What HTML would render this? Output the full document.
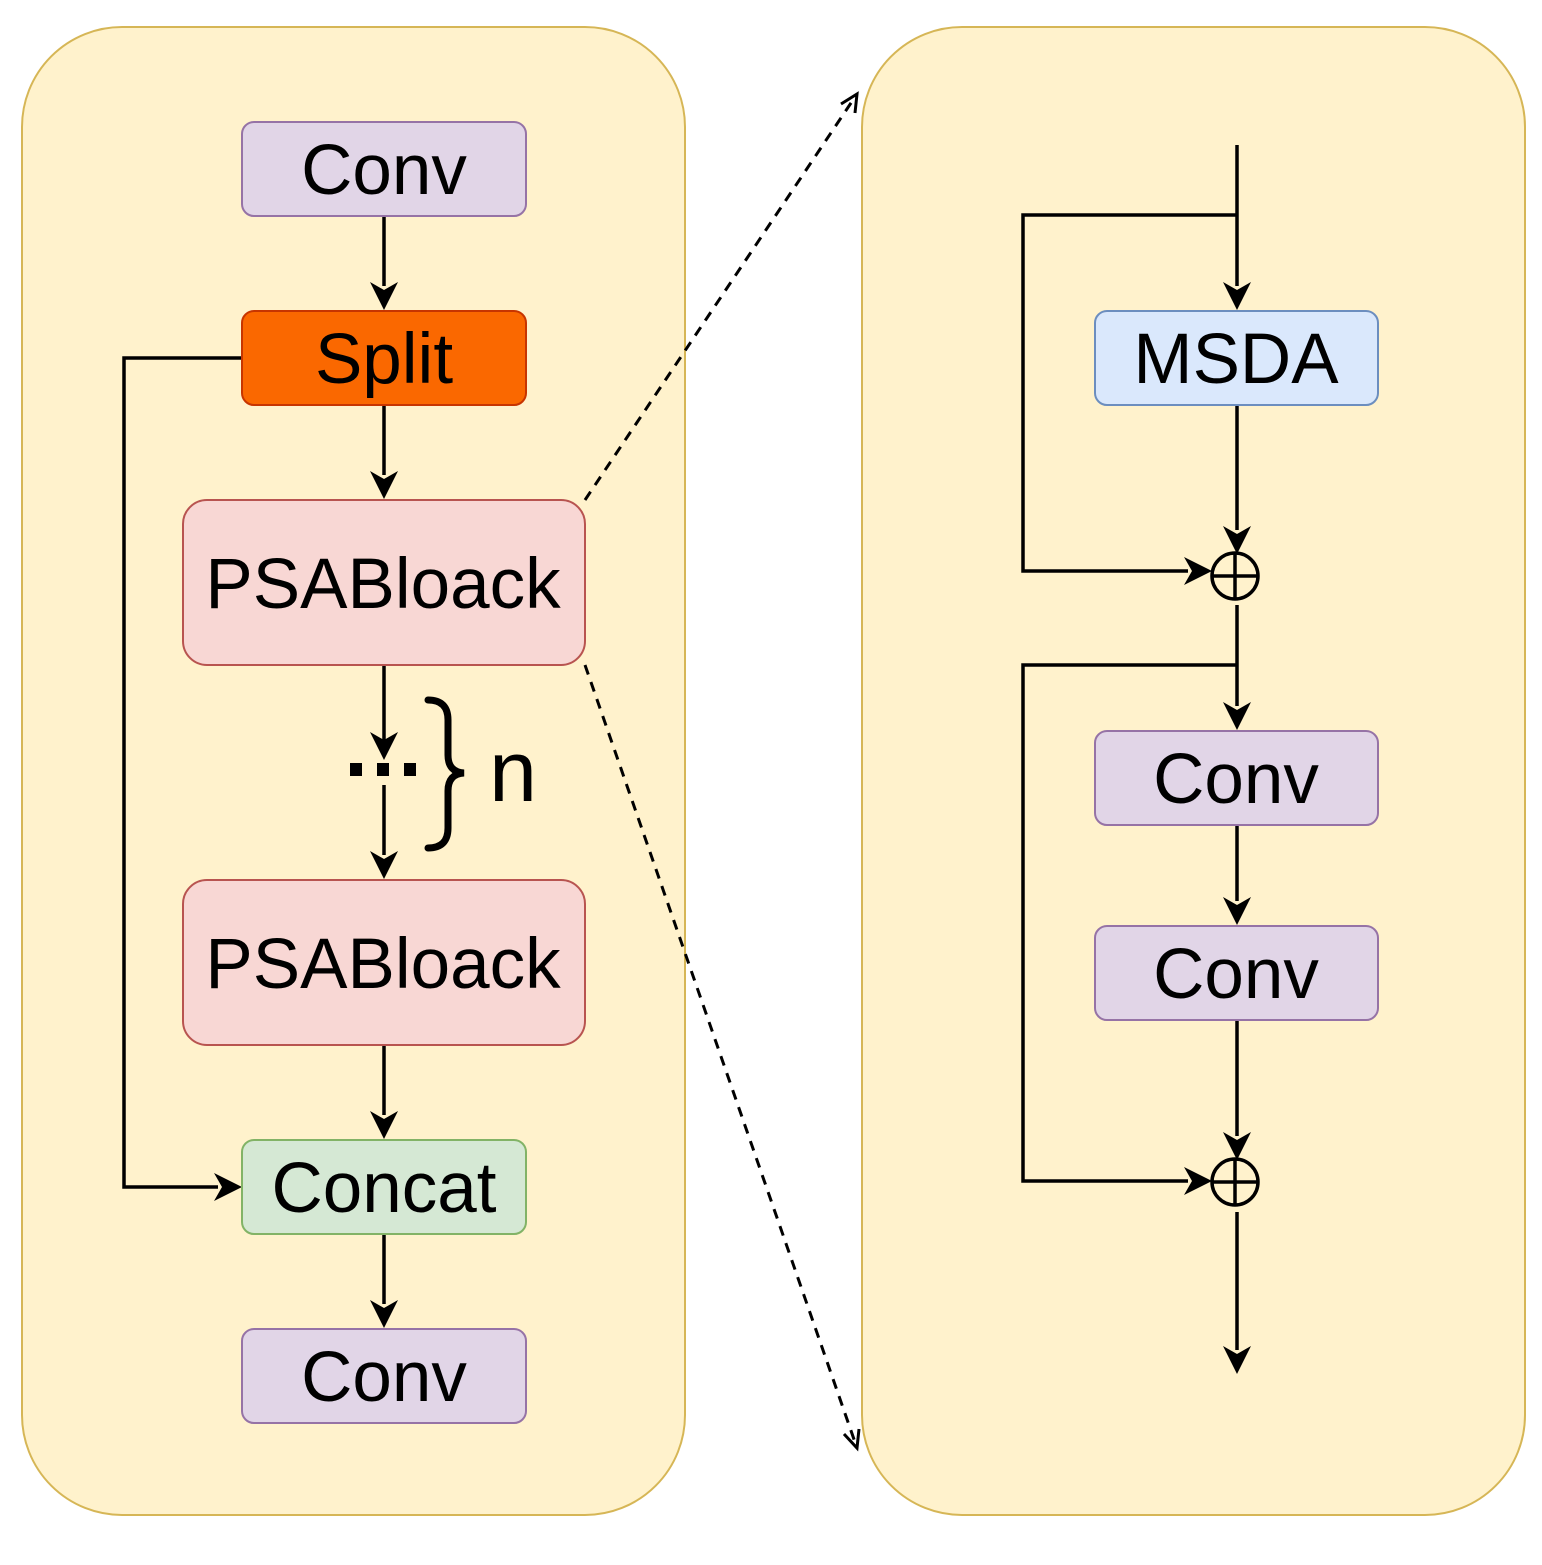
<!DOCTYPE html>
<html><head><style>body{margin:0;background:#fff}svg{display:block}</style></head><body>
<svg width="1542" height="1565" viewBox="0 0 1542 1565" xmlns="http://www.w3.org/2000/svg" font-family="Liberation Sans, Arial, sans-serif">
<rect x="22" y="27" width="663" height="1488" rx="100" fill="#fff2cc" stroke="#d6b656" stroke-width="2"/>
<rect x="862" y="27" width="663" height="1488" rx="100" fill="#fff2cc" stroke="#d6b656" stroke-width="2"/>
<g stroke="#000" stroke-width="3.5" fill="none">
<path d="M384 216 V286"/><path d="M370 282 L384 310 L398 282 L384 290Z" fill="#000" stroke="none"/>
<path d="M384 405 V475"/><path d="M370 471 L384 499 L398 471 L384 479Z" fill="#000" stroke="none"/>
<path d="M384 665 V740"/><path d="M370 732 L384 760 L398 732 L384 740Z" fill="#000" stroke="none"/>
<path d="M384 785 V855"/><path d="M370 851 L384 879 L398 851 L384 859Z" fill="#000" stroke="none"/>
<path d="M384 1045 V1115"/><path d="M370 1111 L384 1139 L398 1111 L384 1119Z" fill="#000" stroke="none"/>
<path d="M384 1234 V1304"/><path d="M370 1300 L384 1328 L398 1300 L384 1308Z" fill="#000" stroke="none"/>
<path d="M242 358 H124 V1187 H218"/><path d="M214 1173 L242 1187 L214 1201 L222 1187Z" fill="#000" stroke="none"/>
<path d="M428 700 Q448 700 448 720 V755 Q448 772 464 773 Q448 774 448 791 V828 Q448 848 428 848" stroke-width="7" stroke-linecap="round"/>
<path d="M1237 145 V286"/><path d="M1223 282 L1237 310 L1251 282 L1237 290Z" fill="#000" stroke="none"/>
<path d="M1237 215 H1023 V571 H1188"/><path d="M1184 557 L1212 571 L1184 585 L1192 571Z" fill="#000" stroke="none"/>
<path d="M1237 405 V530"/><path d="M1223 526 L1237 554 L1251 526 L1237 534Z" fill="#000" stroke="none"/>
<circle cx="1235" cy="576" r="23"/><path d="M1212 576 H1258 M1235 553 V599"/>
<path d="M1237 605 V706"/><path d="M1223 702 L1237 730 L1251 702 L1237 710Z" fill="#000" stroke="none"/>
<path d="M1237 665 H1023 V1181 H1188"/><path d="M1184 1167 L1212 1181 L1184 1195 L1192 1181Z" fill="#000" stroke="none"/>
<path d="M1237 825 V901"/><path d="M1223 897 L1237 925 L1251 897 L1237 905Z" fill="#000" stroke="none"/>
<path d="M1237 1020 V1136"/><path d="M1223 1132 L1237 1160 L1251 1132 L1237 1140Z" fill="#000" stroke="none"/>
<circle cx="1235" cy="1182" r="23"/><path d="M1212 1182 H1258 M1235 1159 V1205"/>
<path d="M1237 1212 V1350"/><path d="M1223 1346 L1237 1374 L1251 1346 L1237 1354Z" fill="#000" stroke="none"/>
<path d="M585 500 L857 94" stroke-width="3" stroke-dasharray="10 8"/>
<path d="M841 104 L857 94 L855 113" stroke-width="3"/>
<path d="M585 665 L857 1448" stroke-width="3" stroke-dasharray="10 8"/>
<path d="M844 1434 L857 1448 L859 1429" stroke-width="3"/>
</g>
<g fill="#000"><rect x="350" y="763" width="12" height="13"/><rect x="377" y="763" width="12" height="13"/><rect x="404" y="763" width="12" height="13"/></g>
<text x="513" y="801" font-size="86" text-anchor="middle">n</text>
<g stroke-width="2">
<rect x="242" y="122" width="284" height="94" rx="12" fill="#e1d5e7" stroke="#9673a6"/>
<rect x="242" y="311" width="284" height="94" rx="12" fill="#fa6800" stroke="#c73500"/>
<rect x="183" y="500" width="402" height="165" rx="24" fill="#f8d7d4" stroke="#b85450"/>
<rect x="183" y="880" width="402" height="165" rx="24" fill="#f8d7d4" stroke="#b85450"/>
<rect x="242" y="1140" width="284" height="94" rx="12" fill="#d5e8d4" stroke="#82b366"/>
<rect x="242" y="1329" width="284" height="94" rx="12" fill="#e1d5e7" stroke="#9673a6"/>
<rect x="1095" y="311" width="283" height="94" rx="12" fill="#dae8fc" stroke="#6c8ebf"/>
<rect x="1095" y="731" width="283" height="94" rx="12" fill="#e1d5e7" stroke="#9673a6"/>
<rect x="1095" y="926" width="283" height="94" rx="12" fill="#e1d5e7" stroke="#9673a6"/>
</g>
<g font-size="71" text-anchor="middle" fill="#000">
<text x="384" y="194">Conv</text>
<text x="384" y="383">Split</text>
<text x="383" y="608">PSABloack</text>
<text x="383" y="988">PSABloack</text>
<text x="384" y="1212">Concat</text>
<text x="384" y="1401">Conv</text>
<text x="1236" y="383">MSDA</text>
<text x="1236" y="803">Conv</text>
<text x="1236" y="998">Conv</text>
</g>
</svg>
</body></html>
